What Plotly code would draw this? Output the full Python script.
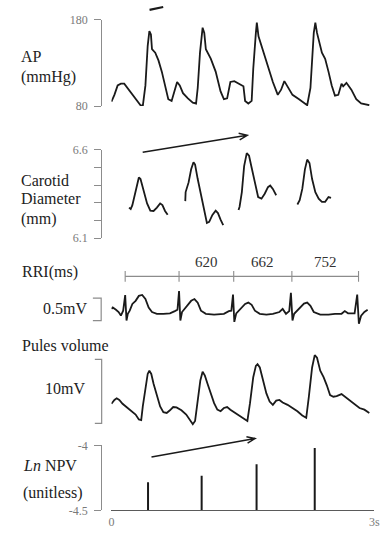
import math
import plotly.graph_objects as go

W, H = 389, 542

# ---------------- data (time in s) ----------------
ap_t = [0.00, 0.034, 0.071, 0.108, 0.146, 0.183, 0.220, 0.276, 0.332, 0.358, 0.388, 0.414, 0.433, 0.451, 0.463,
        0.500, 0.537, 0.575, 0.612, 0.649, 0.687, 0.724, 0.750, 0.780, 0.817, 0.873, 0.929, 0.966, 0.985, 1.011,
        1.041, 1.060, 1.078, 1.134, 1.190, 1.246, 1.284, 1.321, 1.358, 1.403, 1.451, 1.507, 1.526, 1.563, 1.601,
        1.619, 1.649, 1.660, 1.679, 1.713, 1.769, 1.843, 1.899, 1.937, 1.974, 2.011, 2.067, 2.142, 2.198, 2.235,
        2.272, 2.310, 2.328, 2.347, 2.403, 2.440, 2.478, 2.515, 2.552, 2.590, 2.627, 2.646, 2.683, 2.739, 2.795,
        2.851, 2.944]
ap_mmhg = [85, 93, 104, 106, 106, 101, 95, 88, 81, 80, 104, 150, 167, 163, 146,
           142, 133, 120, 103, 88, 86, 101, 108, 104, 95, 89, 84, 83, 101, 142,
           171, 165, 146, 135, 120, 97, 88, 89, 108, 109, 106, 103, 86, 83, 86,
           123, 165, 177, 161, 150, 131, 108, 93, 99, 109, 103, 93, 88, 84, 81,
           101, 165, 177, 165, 142, 135, 120, 104, 92, 93, 106, 103, 107, 99, 88,
           83, 81]

cd_t = [0.201, 0.220, 0.239, 0.276, 0.313, 0.332, 0.369, 0.407, 0.444, 0.481, 0.519, 0.556, 0.582, 0.612, 0.642, None,
        0.843, 0.847, 0.881, 0.910, 0.937, 0.955, 0.985, 1.022, 1.060, 1.090, 1.116, 1.153, 1.190, 1.216, 1.246, 1.276, None,
        1.451, 1.463, 1.489, 1.515, 1.545, 1.571, 1.601, 1.638, 1.675, 1.713, 1.750, 1.787, 1.813, 1.843, 1.881, None,
        2.123, 2.149, 2.179, 2.209, 2.235, 2.261, 2.291, 2.328, 2.366, 2.403, 2.440, 2.478, 2.507]
cd_mm = [6.273, 6.265, 6.287, 6.370, 6.444, 6.435, 6.361, 6.297, 6.256, 6.254, 6.273, 6.297, 6.287, 6.254, 6.232, None,
         6.310, 6.361, 6.416, 6.490, 6.530, 6.517, 6.435, 6.352, 6.251, 6.186, 6.192, 6.232, 6.256, 6.242, 6.205, 6.174, None,
         6.260, 6.278, 6.361, 6.508, 6.582, 6.567, 6.499, 6.416, 6.333, 6.324, 6.352, 6.389, 6.398, 6.379, 6.343, None,
         6.291, 6.315, 6.379, 6.490, 6.545, 6.526, 6.435, 6.361, 6.324, 6.306, 6.306, 6.333, 6.328]

r_peak_t = [0.157, 0.772, 1.396, 2.060, 2.821]
rri_labels = ["", "620", "662", "752"]

ecg_t = [0.000, 0.015, 0.052, 0.082, 0.108, 0.134, 0.157, 0.172, 0.187, 0.209, 0.239, 0.276, 0.313, 0.351, 0.388,
         0.425, 0.463, 0.519, 0.593, 0.668, 0.724, 0.754, 0.772, 0.787, 0.806, 0.836, 0.873, 0.910, 0.948, 0.985,
         1.022, 1.078, 1.172, 1.284, 1.340, 1.369, 1.388, 1.403, 1.425, 1.451, 1.489, 1.526, 1.563, 1.601, 1.638,
         1.694, 1.769, 1.843, 1.918, 1.955, 1.993, 2.030, 2.049, 2.067, 2.086, 2.123, 2.160, 2.198, 2.235, 2.272,
         2.310, 2.384, 2.478, 2.552, 2.627, 2.664, 2.701, 2.776, 2.806, 2.825, 2.851, 2.888, 2.925]
ecg_mv = [0.22, 0.25, 0.20, 0.15, 0.07, 0.18, 0.53, -0.04, 0.11, 0.18, 0.33, 0.40, 0.51, 0.53, 0.44,
          0.25, 0.15, 0.11, 0.11, 0.12, 0.17, 0.20, 0.62, -0.04, 0.15, 0.22, 0.29, 0.40, 0.44, 0.36,
          0.18, 0.11, 0.09, 0.11, 0.17, 0.18, 0.54, -0.07, 0.12, 0.18, 0.25, 0.33, 0.36, 0.31, 0.18,
          0.11, 0.09, 0.11, 0.15, 0.22, 0.11, 0.17, 0.58, -0.04, 0.11, 0.18, 0.25, 0.34, 0.36, 0.29,
          0.15, 0.09, 0.09, 0.11, 0.11, 0.17, 0.12, 0.12, 0.54, -0.11, 0.07, 0.15, 0.20]

pv_t = [0.000, 0.034, 0.060, 0.090, 0.127, 0.164, 0.220, 0.276, 0.313, 0.340, 0.358, 0.388, 0.414, 0.433, 0.455,
        0.481, 0.519, 0.556, 0.593, 0.631, 0.668, 0.705, 0.743, 0.799, 0.854, 0.903, 0.929, 0.955, 0.985, 1.015,
        1.041, 1.067, 1.097, 1.134, 1.172, 1.209, 1.246, 1.284, 1.321, 1.358, 1.414, 1.470, 1.526, 1.552, 1.582,
        1.619, 1.649, 1.668, 1.694, 1.731, 1.769, 1.806, 1.843, 1.881, 1.918, 1.955, 2.011, 2.067, 2.123, 2.179,
        2.224, 2.254, 2.291, 2.321, 2.347, 2.384, 2.422, 2.459, 2.496, 2.534, 2.571, 2.627, 2.664, 2.720, 2.776,
        2.832, 2.888, 2.944]
pv_mv = [3.05, 3.65, 3.91, 3.65, 3.05, 2.64, 2.13, 1.37, 0.61, 0.51, 2.64, 5.69, 7.72, 8.22, 7.72,
         6.19, 4.16, 2.64, 1.73, 1.62, 2.03, 2.54, 2.49, 2.03, 1.37, 0.36, -0.15, 0.36, 3.65, 6.70,
         8.07, 7.46, 6.19, 4.67, 3.15, 2.13, 1.88, 2.39, 2.54, 2.13, 1.62, 1.12, 0.51, 0.36, 3.15,
         7.21, 8.98, 9.24, 8.73, 6.70, 4.67, 3.40, 2.89, 3.55, 3.65, 3.25, 2.89, 2.39, 1.88, 1.22,
         0.86, 4.16, 8.73, 10.66, 10.25, 8.22, 7.21, 5.94, 4.42, 4.16, 4.26, 4.57, 4.16, 3.65, 2.89,
         2.39, 2.13, 1.62]

npv_t = [0.418, 1.030, 1.657, 2.321]
npv_val = [-4.283, -4.233, -4.145, -4.020]

x_ticks = [0, 3]
x_ticktext = ["0", "3s"]

# ---------------- helpers ----------------
def X(p):
    return p / W


def Y(p):
    return 1 - p / H


INK = "#1a1a1a"
AXC = "#8c8c8c"
LBL = "#7a7a7a"
SERIF = "Liberation Serif, Times New Roman, serif"

fig = go.Figure()
line = dict(color=INK, width=1.8)

fig.add_trace(go.Scatter(x=ap_t, y=ap_mmhg, xaxis="x", yaxis="y", mode="lines", line=line))
fig.add_trace(go.Scatter(x=cd_t, y=cd_mm, xaxis="x", yaxis="y2", mode="lines", line=line, connectgaps=False))

# RRI ruler
fig.add_trace(go.Scatter(x=[r_peak_t[0], r_peak_t[-1]], y=[0.5, 0.5], xaxis="x", yaxis="y3",
                         mode="lines", line=dict(color=AXC, width=1.1)))
tx, ty = [], []
for r in r_peak_t:
    tx += [r, r, None]
    ty += [0, 1, None]
fig.add_trace(go.Scatter(x=tx, y=ty, xaxis="x", yaxis="y3", mode="lines", line=dict(color=AXC, width=1.1)))

fig.add_trace(go.Scatter(x=ecg_t, y=ecg_mv, xaxis="x", yaxis="y4", mode="lines", line=line))
fig.add_trace(go.Scatter(x=pv_t, y=pv_mv, xaxis="x", yaxis="y5", mode="lines", line=line))

bx, by = [], []
for t, v in zip(npv_t, npv_val):
    bx += [t, t, None]
    by += [-4.5, v, None]
fig.add_trace(go.Scatter(x=bx, y=by, xaxis="x", yaxis="y6", mode="lines", line=dict(color=INK, width=2)))

tickfont = dict(family=SERIF, size=12, color=LBL)
ycommon = dict(anchor="free", position=X(100.5), showline=True, linecolor=AXC, linewidth=1.2,
               ticks="outside", ticklen=7, tickcolor=AXC, tickwidth=1.2, tickfont=tickfont,
               showgrid=False, zeroline=False, ticklabelstandoff=4, fixedrange=True)
hidden = dict(visible=False, showgrid=False, zeroline=False, fixedrange=True)

fig.update_layout(
    width=W, height=H, autosize=False,
    margin=dict(l=0, r=0, t=0, b=0),
    paper_bgcolor="white", plot_bgcolor="rgba(0,0,0,0)",
    showlegend=False,
    xaxis=dict(domain=[X(111), X(380)], range=[0, 3], anchor="y6", showline=True, linecolor="#5a5a5a",
               linewidth=1.2, tickvals=x_ticks, ticktext=x_ticktext, ticks="",
               tickfont=dict(family=SERIF, size=12, color=LBL), showgrid=False, zeroline=False,
               fixedrange=True),
    yaxis=dict(domain=[Y(101.7), Y(13.3)], range=[80, 180], tickvals=[80, 180], **ycommon),
    yaxis2=dict(domain=[Y(237.3), Y(146.7)], range=[6.1, 6.6],
                tickvals=[6.1, 6.2, 6.3, 6.4, 6.5, 6.6], ticktext=["6.1", "", "", "", "", "6.6"], **ycommon),
    yaxis3=dict(domain=[Y(283), Y(270)], range=[-0.1, 1.1], **hidden),
    yaxis4=dict(domain=[Y(328), Y(288)], range=[-0.174, 0.696], **hidden),
    yaxis5=dict(domain=[Y(431), Y(352)], range=[-0.56, 11.48], **hidden),
    yaxis6=dict(domain=[Y(516.7), Y(450)], range=[-4.5, -4.0], tickvals=[-4.5, -4.0],
                ticktext=["-4.5", "-4"], **ycommon),
)

# scale brackets (0.5 mV and 10 mV)
shapes = []
def bracket(yref, b, span, xl, xr):
    return dict(type="path", xref="paper", yref=yref,
                path=f"M {X(xl)},{b} L {X(xr)},{b} L {X(xr)},{b + span} L {X(xl)},{b + span}",
                line=dict(color=AXC, width=1.2))

shapes.append(bracket("y4", -0.04, 0.5, 92, 100.5))
shapes.append(bracket("y5", 0.0, 10.0, 94, 101))

def arrow(x0, y0, x1, y1, head=9, ang=22, width=1.5):
    dx, dy = x1 - x0, y1 - y0
    L = math.hypot(dx, dy)
    ux, uy = dx / L, dy / L
    pts = []
    for s in (1, -1):
        a = math.radians(ang) * s
        rx = ux * math.cos(a) - uy * math.sin(a)
        ry = ux * math.sin(a) + uy * math.cos(a)
        pts.append((x1 - head * rx, y1 - head * ry))
    p = (f"M {X(x0)},{Y(y0)} L {X(x1)},{Y(y1)} "
         f"M {X(pts[0][0])},{Y(pts[0][1])} L {X(x1)},{Y(y1)} L {X(pts[1][0])},{Y(pts[1][1])}")
    return dict(type="path", xref="paper", yref="paper", path=p, line=dict(color=INK, width=width))

shapes.append(arrow(143, 149, 250, 131.7))
shapes.append(arrow(152, 462, 258, 443))
shapes.append(dict(type="line", xref="paper", yref="paper", x0=X(150), y0=Y(3.0), x1=X(164), y1=Y(0.0),
                   line=dict(color=INK, width=2.2)))
fig.update_layout(shapes=shapes)

# text labels
ann = []
def label(text, xp, yp, anchor="left", size=16, color="#222"):
    ann.append(dict(text=text, xref="paper", yref="paper", x=X(xp), y=Y(yp), xanchor=anchor,
                    yanchor="middle", showarrow=False, font=dict(family=SERIF, size=size, color=color)))

label("AP", 16, 51)
label("(mmHg)", 16, 72)
label("Carotid", 16, 178.5)
label("Diameter", 16, 197)
label("(mm)", 16, 218)
label("RRI(ms)", 17, 272)
label("0.5mV", 88, 309, anchor="right")
label("Pules volume", 17, 347)
label("10mV", 86, 392, anchor="right")
label("<i>Ln</i> NPV", 18, 471)
label("(unitless)", 18, 499)

for i in range(1, len(r_peak_t)):
    if rri_labels[i - 1]:
        ann.append(dict(text=rri_labels[i - 1], xref="x", yref="paper",
                        x=(r_peak_t[i - 1] + r_peak_t[i]) / 2, y=Y(262), xanchor="center", yanchor="middle",
                        showarrow=False, font=dict(family=SERIF, size=15, color="#333")))
fig.update_layout(annotations=ann)

fig.write_html(
    "out.html",
    config={"responsive": False, "displayModeBar": False},
    post_script="document.body.style.margin='0';document.body.style.overflow='hidden';",
)
